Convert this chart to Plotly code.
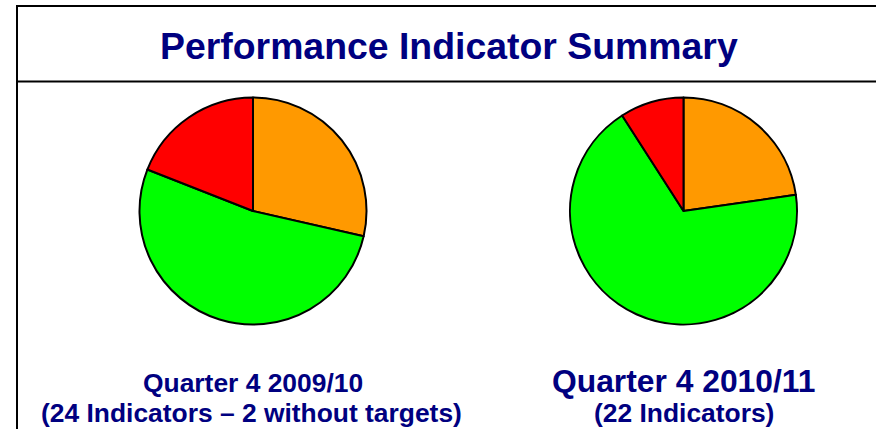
import plotly.graph_objects as go

W, H = 876, 429

# Data
categories = ["Amber", "Green", "Red"]
colors = ["#FF9900", "#00FF00", "#FF0000"]
q4_2009_values = [6, 11, 4]
q4_2010_values = [5, 15, 2]
title_text = "Performance Indicator Summary"
left_label = ["Quarter 4 2009/10", "(24 Indicators \u2013 2 without targets)"]
right_label = ["Quarter 4 2010/11", "(22 Indicators)"]

NAVY = "#000080"
FONT = "Liberation Sans, Arial, sans-serif"


def px(x):
    return x / W


def py(y):
    return 1 - y / H


def dom(cx, cy, r):
    return dict(x=[px(cx - r), px(cx + r)], y=[py(cy + r), py(cy - r)])


fig = go.Figure()
for vals, (cx, cy) in [(q4_2009_values, (253, 211)), (q4_2010_values, (683.5, 211))]:
    fig.add_trace(go.Pie(
        labels=categories, values=vals, sort=False, direction="clockwise",
        rotation=0, textinfo="none", hoverinfo="label+value",
        marker=dict(colors=colors, line=dict(color="black", width=2)),
        domain=dom(cx, cy, 113.5), showlegend=False,
    ))

shapes = [
    dict(type="line", xref="paper", yref="paper", x0=px(17), x1=px(W + 5), y0=py(6), y1=py(6),
         line=dict(color="black", width=2)),
    dict(type="line", xref="paper", yref="paper", x0=px(17), x1=px(W + 5), y0=py(81.5), y1=py(81.5),
         line=dict(color="black", width=2)),
    dict(type="line", xref="paper", yref="paper", x0=px(17), x1=px(17), y0=py(5), y1=py(H + 5),
         line=dict(color="black", width=2)),
]

annotations = [
    dict(text=f"<b>{title_text}</b>", x=px(448.5), y=py(46), xref="paper", yref="paper",
         showarrow=False, xanchor="center", yanchor="middle",
         font=dict(family=FONT, size=37.4, color=NAVY)),
    dict(text=f"<b>{left_label[0]}</b>", x=px(253), y=py(383), xref="paper", yref="paper",
         showarrow=False, xanchor="center", yanchor="middle",
         font=dict(family=FONT, size=26.4, color=NAVY)),
    dict(text=f"<b>{left_label[1]}</b>", x=px(251), y=py(413), xref="paper", yref="paper",
         showarrow=False, xanchor="center", yanchor="middle",
         font=dict(family=FONT, size=26.4, color=NAVY)),
    dict(text=f"<b>{right_label[0]}</b>", x=px(683), y=py(381), xref="paper", yref="paper",
         showarrow=False, xanchor="center", yanchor="middle",
         font=dict(family=FONT, size=31.8, color=NAVY)),
    dict(text=f"<b>{right_label[1]}</b>", x=px(684), y=py(413), xref="paper", yref="paper",
         showarrow=False, xanchor="center", yanchor="middle",
         font=dict(family=FONT, size=26.4, color=NAVY)),
]

fig.update_layout(
    width=W, height=H, margin=dict(l=0, r=0, t=0, b=0),
    paper_bgcolor="white", plot_bgcolor="white",
    shapes=shapes, annotations=annotations,
)

fig.write_html(
    "out.html",
    config={"displayModeBar": False},
    post_script="document.body.style.margin='0px';document.body.style.overflow='hidden';",
)
